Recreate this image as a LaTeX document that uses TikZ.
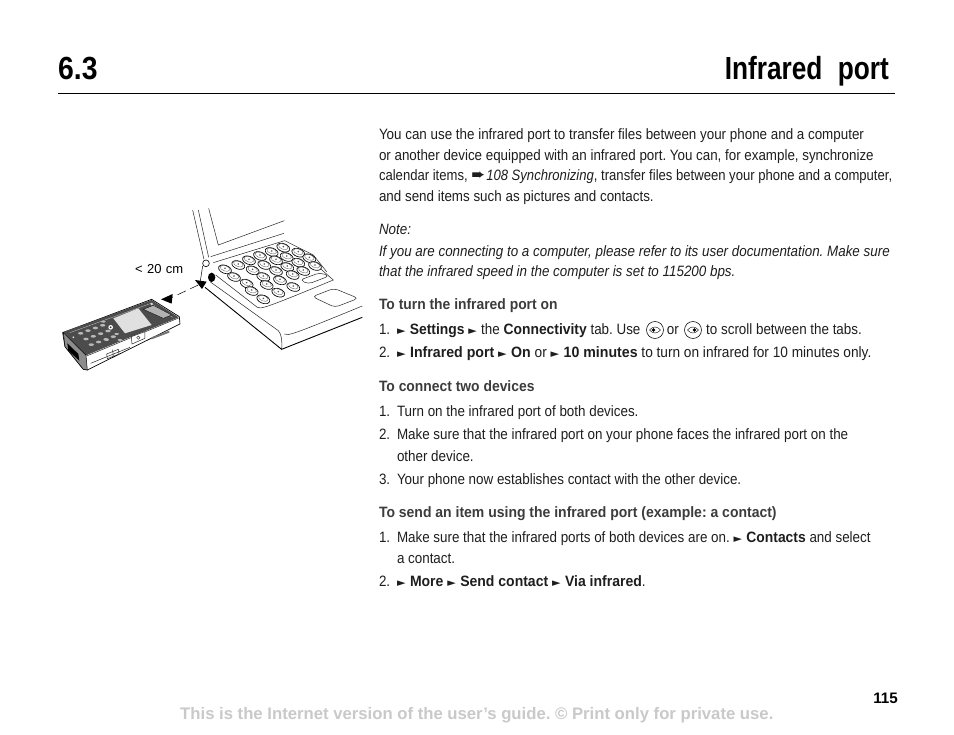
\documentclass[tikz,border=0pt]{standalone}
\usepackage{fontspec}
\setmainfont{Liberation Sans}
\newfontfamily\narrowf[FakeStretch=0.893,BoldFeatures={FakeStretch=0.925}]{Liberation Sans}
\newfontfamily\headf[FakeStretch=0.82]{Liberation Sans}
\newfontfamily\headn[FakeStretch=0.885]{Liberation Sans}
\newfontfamily\symf{DejaVu Sans}
\newcommand{\tr}{{\symf\fontsize{11}{9}\selectfont ►}\hspace{.7pt}}
\definecolor{ink}{HTML}{1E1E1E}
\definecolor{subh}{HTML}{3C3C3C}
\definecolor{foot}{HTML}{C9C9C9}
\tikzset{
  body/.style={anchor=base west,inner sep=0pt,outer sep=0pt,yshift=-1pt,text=ink,font=\narrowf\fontsize{15}{17}\selectfont\frenchspacing},
  subhead/.style={body,text=subh,font=\narrowf\bfseries\fontsize{15}{17}\selectfont\frenchspacing},
  heading/.style={anchor=base west,inner sep=0pt,text=black,font=\headf\bfseries\fontsize{32}{34}\selectfont},
  thin line/.style={draw=black!85,line width=.5pt},
}
\begin{document}
\begin{tikzpicture}[x=1pt,y=-1pt]
\useasboundingbox (0,0) rectangle (954,735);
\fill[white] (0,0) rectangle (954,735);
% header
\node[heading,font=\headn\bfseries\fontsize{32}{34}\selectfont] (h1) at (58,80) {6.3};
\node[heading,anchor=base east] (h2) at (889,80) {Infrared\hspace{.25em} port};
\coordinate (ruleL) at (58,93);\coordinate (ruleR) at (895,93);
\draw[line width=.8pt] (ruleL) -- (ruleR);
% text
\node[body] (t1) at (379,139) {You can use the infrared port to transfer files between your phone and a computer};
\node[body] (t2) at (379,160) {\scalebox{.997}[1]{or another device equipped with an infrared port. You can, for example, synchronize}};
\node[body] (t3) at (379,180) {\scalebox{.977}[1]{calendar items, {\symf\fontsize{17}{11}\selectfont ➨}\hspace{1pt}\textit{108 Synchronizing}, transfer files between your phone and a computer,}};
\node[body] (t4) at (379,201) {and send items such as pictures and contacts.};
\node[body] (t5) at (379,234) {\textit{Note:}};
\node[body] (t6) at (379,256) {\textit{If you are connecting to a computer, please refer to its user documentation. Make sure}};
\node[body] (t7) at (379,276) {\textit{that the infrared speed in the computer is set to 115200 bps.}};
\node[subhead] (s1) at (379,309) {To turn the infrared port on};
\node[body] (n1) at (379,334) {1.};
\node[body] (l1) at (397,334) {\tr\ \textbf{Settings} \tr\ the \textbf{Connectivity} tab. Use \hspace{19pt} or \hspace{20pt} to scroll between the tabs.};
\node[body] (n2) at (379,357) {2.};
\node[body] (l2) at (397,357) {\scalebox{1.02}[1]{\tr\ \textbf{Infrared port} \tr\ \textbf{On} or \tr\ \textbf{10 minutes} to turn on infrared for 10 minutes only.}};
\node[subhead] (s2) at (379,391) {To connect two devices};
\node[body] (n3) at (379,416) {1.};
\node[body] (l3) at (397,416) {Turn on the infrared port of both devices.};
\node[body] (n4) at (379,439) {2.};
\node[body] (l4) at (397,439) {Make sure that the infrared port on your phone faces the infrared port on the};
\node[body] (l4b) at (397,460) {other device.};
\node[body] (n5) at (379,483) {3.};
\node[body] (l5) at (397,483) {Your phone now establishes contact with the other device.};
\node[subhead] (s3) at (379,516) {\scalebox{1.008}[1]{To send an item using the infrared port (example: a contact)}};
\node[body] (n6) at (379,541) {1.};
\node[body] (l6) at (397,541) {Make sure that the infrared ports of both devices are on. \tr\ \textbf{Contacts} and select};
\node[body] (l6b) at (397,562) {a contact.};
\node[body] (n7) at (379,585) {2.};
\node[body] (l7) at (397,585) {\scalebox{1.01}[1]{\tr\ \textbf{More} \tr\ \textbf{Send contact} \tr\ \textbf{Via infrared}.}};
% nav icons
\foreach \cx/\d in {655/-1,693/1}{
  \draw[line width=.55pt] (\cx,330) circle (8.5);
  \draw[line width=.4pt,fill=white] (\cx-5.5,330) .. controls (\cx-2,326) and (\cx+2,326) .. (\cx+5.5,330) .. controls (\cx+2,334) and (\cx-2,334) .. (\cx-5.5,330) -- cycle;
  \fill (\cx+\d*1.5,330) circle (1.8);
}
% footer
\node[anchor=base east,inner sep=0pt,font=\bfseries\fontsize{15.2}{17}\selectfont] (pg) at (898,703) {115};
\node[anchor=base west,inner sep=0pt,text=foot,font=\bfseries\fontsize{16.7}{18}\selectfont\frenchspacing] (ft) at (180,719) {This is the Internet version of the user's guide. © Print only for private use.};
% illustration
\node[anchor=base west,inner sep=0pt,font=\fontsize{13}{14}\selectfont] (dist) at (135,274) {<\,\,20\,\,cm};
\begin{scope}[shift={(50,200)},x=.3333pt,y=-.3333pt]
 % laptop screen
 \draw[thin line] (428,30) -- (462,178);
 \draw[thin line] (445,30) -- (476,172);
 \draw[thin line] (476,25) -- (505,135) -- (703,62);
 \draw[thin line] (482,170) -- (702,100);
 \draw[thin line] (490,188) -- (704,122);
 \draw[thin line] (704,122) -- (790,165) -- (830,215);
 % base
 \draw[line width=.9pt] (465,262) -- (695,448) -- (937,352);
 \draw[thin line] (480,245) -- (685,392) .. controls (695,402) and (697,425) .. (695,448);
 \draw[thin line] (703,402) .. controls (715,408) and (725,405) .. (937,318);
 \draw[thin line] (497,225) -- (622,322) .. controls (632,328) and (642,326) .. (850,240) -- (810,205);
 % trackpad
 \draw[thin line,rounded corners=4pt] (787,290) -- (852,265) -- (925,295) -- (855,322) -- cycle;
 \draw[thin line,rounded corners=4pt] (750,240) -- (810,218) -- (838,228) -- (775,252) -- cycle;
 % keys
 \foreach \x/\y in {525/205,565/192,597/178,630/165,665/153,700/140,
   552/228,608/208,643/192,678/178,710/168,745/155,
   590/248,640/228,678/210,712/198,745/185,778/172,
   605/270,650/252,690/238,728/222,760/210,795/195,
   640/295,685/275,730/258}{
   \draw[line width=.65pt,fill=white,rotate around={-20:(\x,\y+3)}] (\x,\y+3) ellipse (20 and 12);
   \draw[line width=.3pt,draw=black!70,rotate around={-20:(\x,\y)}] (\x,\y) ellipse (15 and 8);
   \fill[black!65] (\x,\y) circle (2.6);
 }
 % hinge + port
 \draw[line width=.6pt,fill=white] (468,190) circle (10);
 \fill (485,232) ellipse (11 and 14);
 % phone
 \draw[line width=.7pt,fill=white] (38,398) -- (305,298) -- (388,350) -- (390,372) -- (112,510) -- (100,508) -- (45,440) -- cycle;
 \fill[black!70] (40,396) -- (305,300) -- (386,352) -- (108,466) -- cycle;
 \draw[black!25,line width=.35pt] (60,398) -- (303,310) -- (368,352);
 \fill[black!12] (190,355) -- (265,325) -- (305,375) -- (225,400) -- cycle;
 \draw[line width=.3pt,fill=black!30] (280,328) -- (310,316) -- (365,345) -- (340,355) -- cycle;
 \fill[black!15] (305,312) circle (4);
 \foreach \i in {0,1,2,3}{\foreach \j in {0,1,2}{
   \fill[black!28] ({92+\i*22+\j*16},{400-\i*8+\j*17}) ellipse (8 and 4);
 }}
 \foreach \px/\py in {160/365,200/402,210/420,170/420}{\fill[black!28] (\px,\py) ellipse (7 and 3);}
 \fill[white] (182,382) circle (7);
 \fill[black!80] (182,382) circle (3);
 \fill[black!15] (70,412) circle (3);
 \draw[line width=.5pt,fill=black!45] (40,398) -- (108,466) -- (112,510) -- (100,508) -- (45,440) -- cycle;
 \fill[black] (52,430) -- (85,462) -- (88,482) -- (55,452) -- cycle;
 \draw[thin line] (110,468) -- (386,354);
 \draw[thin line,fill=white] (244,410) -- (285,395) -- (285,415) -- (246,432) -- cycle;
 \draw[line width=.3pt] (265,413) circle (5);
 \fill[black!55] (305,412) -- (358,392) -- (358,398) -- (305,418) -- cycle;
 \draw[thin line,fill=white] (170,462) -- (205,448) -- (207,462) -- (172,476) -- cycle;
 \draw[thin line] (188,449) -- (190,470);
 \draw[thin line] (122,490) -- (240,442);
 % arrows
 \coordinate (a1) at (445,255);\coordinate (a2) at (360,295);
 \draw[line width=.5pt,dash pattern=on 9pt off 5pt] (a1) -- (a2);
 \fill (333,298) -- (368,282) -- (365,311) -- cycle;
 \draw[line width=.5pt] (458,198) -- (450,250);
 \fill (435,240) -- (470,245) -- (456,267) -- cycle;
\end{scope}
\end{tikzpicture}
\end{document}
